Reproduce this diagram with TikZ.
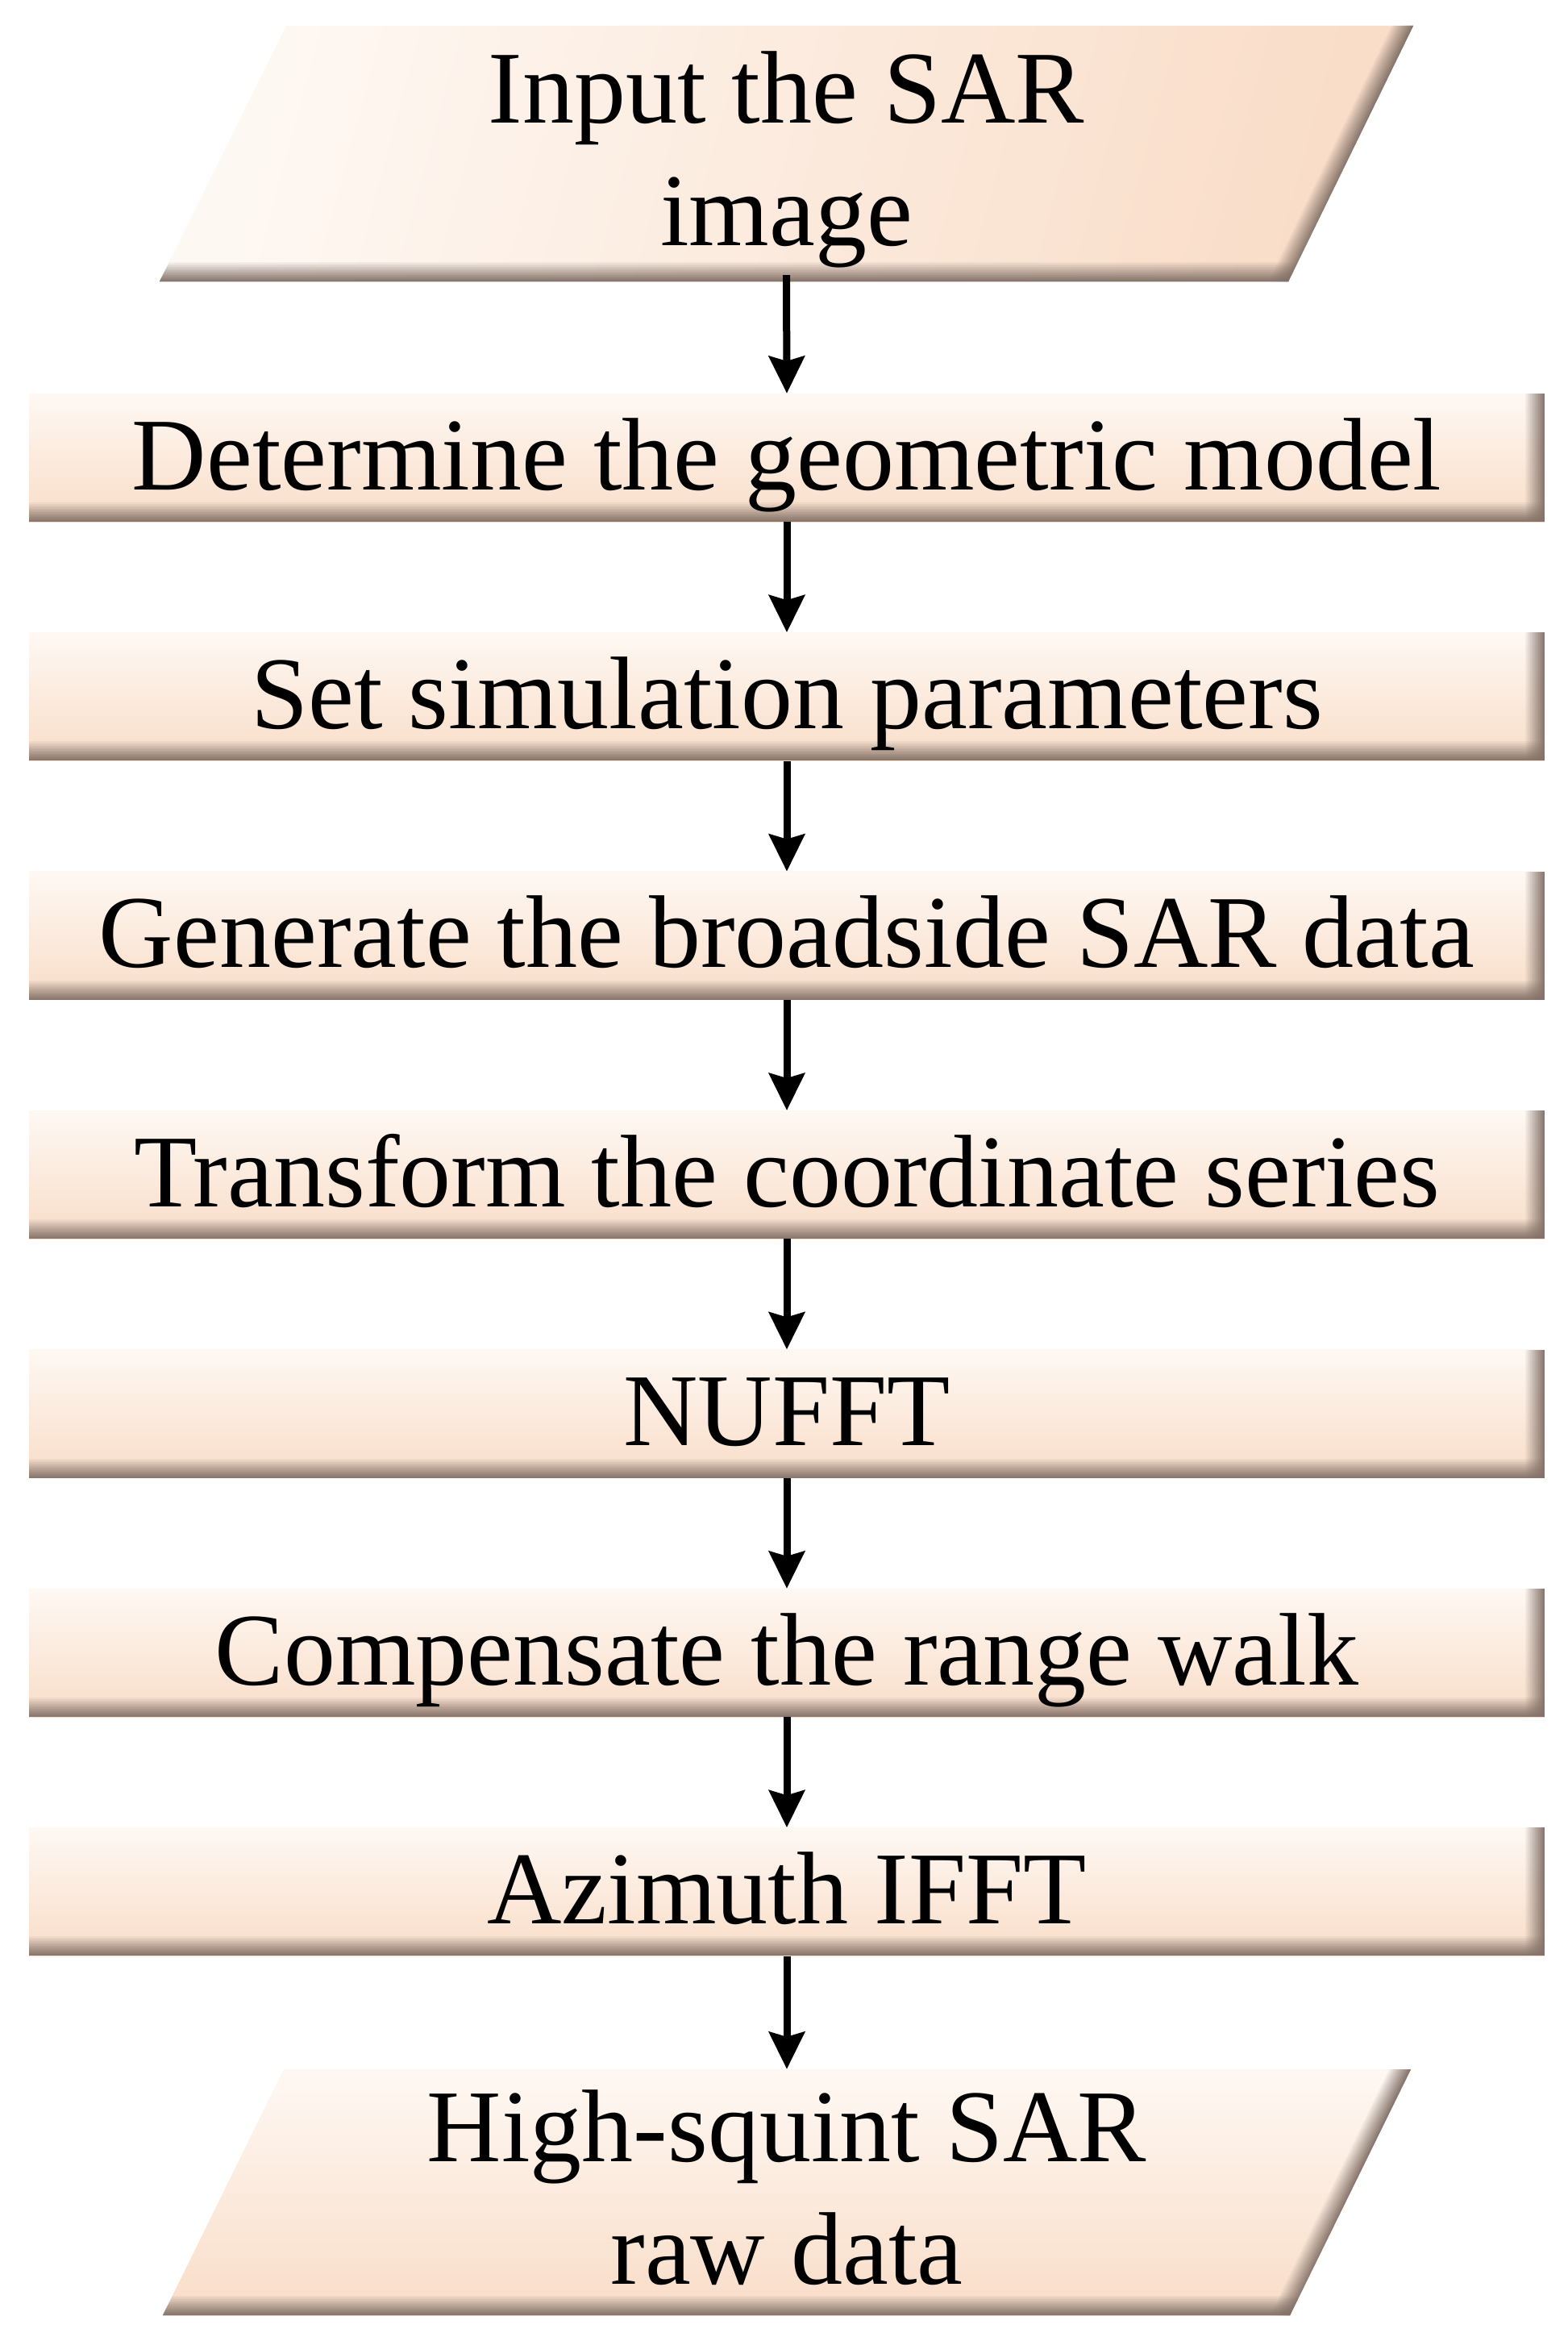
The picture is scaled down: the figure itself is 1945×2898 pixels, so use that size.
\documentclass[tikz,border=0pt]{standalone}
\usepackage{fontspec}
\setmainfont{Liberation Serif}
\usetikzlibrary{arrows.meta,calc}
\definecolor{lightpeach}{HTML}{FEF8F3}
\definecolor{peach}{HTML}{F9DDC8}
\definecolor{bandcol}{HTML}{85736A}
\tikzset{
  boxfont/.style={font=\fontsize{128}{152}\selectfont},
  procbox/.style={rectangle, inner sep=0pt, minimum width=1880pt, minimum height=159pt,
    top color=lightpeach, bottom color=peach, draw=none,
    text height=100pt, text depth=21pt, boxfont,
    path picture={
      \foreach \k [evaluate=\k as \op using {1-(1-\k*0.95/12)/(1-(\k-1)*0.95/12)}] in {1,...,12}{
        \fill[bandcol, opacity=\op]
          ([yshift=(26-2*\k)*1pt]path picture bounding box.south west)
          rectangle (path picture bounding box.south east);
        \fill[bandcol, opacity=\op]
          ([xshift=-(26-2*\k)*1pt]path picture bounding box.north east)
          rectangle (path picture bounding box.south east);
      }
    }},
  ioholder/.style={rectangle, inner sep=0pt, draw=none, boxfont},
  flowarrow/.style={line width=9pt, -{Stealth[length=46pt,width=44pt,inset=6pt]}},
}
\begin{document}
\begin{tikzpicture}[x=1pt,y=-1pt]
\useasboundingbox (0,0) rectangle (1945,2898);
\fill[white] (0,0) rectangle (1945,2898);

% ---------- top parallelogram (input) ----------
\shade[top color=lightpeach, bottom color=peach, shading angle=75]
  (355,32) -- (1753,32) -- (1598,349) -- (198,349) -- cycle;
\begin{scope}
  \clip (355,32) -- (1753,32) -- (1598,349) -- (198,349) -- cycle;
  \foreach \k [evaluate=\k as \op using {1-(1-\k*0.95/12)/(1-(\k-1)*0.95/12)}] in {1,...,12}{
    \fill[bandcol, opacity=\op] (150,349-26+2*\k) rectangle (1800,352);
    \fill[bandcol, opacity=\op] (1753-28+2.2*\k,30) -- (1760,30) -- (1605,352) -- (1598-28+2.2*\k,352) -- cycle;
  }
\end{scope}
\node[ioholder, minimum width=1400pt, minimum height=317pt] (in) at (975.5,190.5)
  {\parbox[c][317pt][c]{1400pt}{\centering\vspace*{15pt}Input the SAR\\image}};

% ---------- process boxes ----------
\node[procbox] (n1) at (976,567.5)  {Determine the geometric model};
\node[procbox] (n2) at (976,863.9)  {Set simulation parameters};
\node[procbox] (n3) at (976,1160.3) {Generate the broadside SAR data};
\node[procbox] (n4) at (976,1456.7) {Transform the coordinate series};
\node[procbox] (n5) at (976,1753.1) {NUFFT};
\node[procbox] (n6) at (976,2049.5) {Compensate the range walk};
\node[procbox] (n7) at (976,2345.9) {Azimuth IFFT};

% ---------- bottom parallelogram (output) ----------
\shade[top color=lightpeach, bottom color=peach]
  (352,2566) -- (1750,2566) -- (1600,2871) -- (202,2871) -- cycle;
\begin{scope}
  \clip (352,2566) -- (1750,2566) -- (1600,2871) -- (202,2871) -- cycle;
  \foreach \k [evaluate=\k as \op using {1-(1-\k*0.95/12)/(1-(\k-1)*0.95/12)}] in {1,...,12}{
    \fill[bandcol, opacity=\op] (150,2871-26+2*\k) rectangle (1800,2874);
    \fill[bandcol, opacity=\op] (1750-28+2.2*\k,2564) -- (1757,2564) -- (1607,2874) -- (1600-28+2.2*\k,2874) -- cycle;
  }
\end{scope}
\node[ioholder, minimum width=1400pt, minimum height=305pt] (out) at (976,2718.5)
  {\parbox[c][305pt][c]{1400pt}{\centering High-squint SAR\\raw data\par\vspace*{12pt}}};

% ---------- connectors ----------
\draw[flowarrow] ([yshift=8pt]in.south) -- (n1.north);
\draw[flowarrow] (n1.south) -- (n2.north);
\draw[flowarrow] (n2.south) -- (n3.north);
\draw[flowarrow] (n3.south) -- (n4.north);
\draw[flowarrow] (n4.south) -- (n5.north);
\draw[flowarrow] (n5.south) -- (n6.north);
\draw[flowarrow] (n6.south) -- (n7.north);
\draw[flowarrow] (n7.south) -- (out.north);
\end{tikzpicture}
\end{document}
